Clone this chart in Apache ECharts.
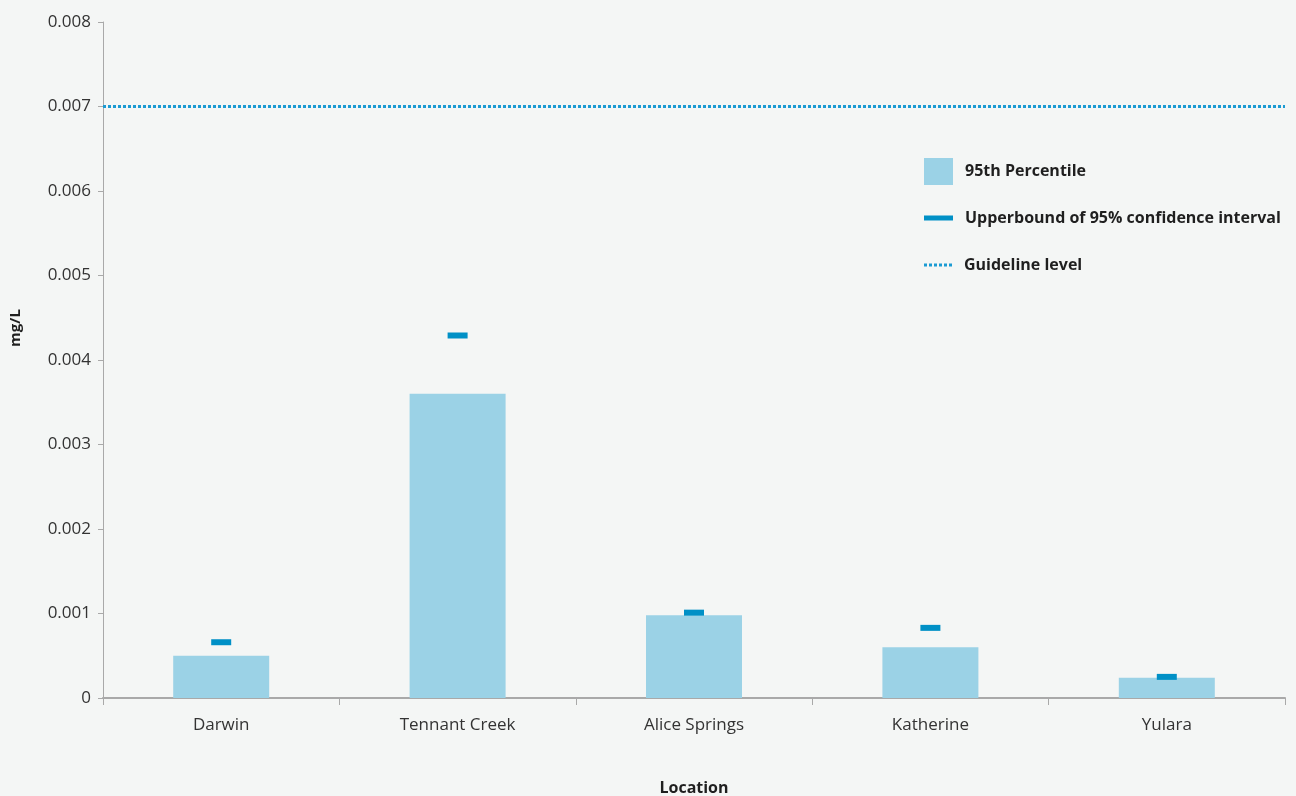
<!DOCTYPE html>
<html>
<head>
<meta charset="utf-8">
<style>
  html, body { margin: 0; padding: 0; background: #f4f6f5; }
  #chart { width: 1296px; height: 796px; }
</style>
<script src="https://cdn.jsdelivr.net/npm/echarts@6/dist/echarts.min.js"></script>
</head>
<body>
<div id="chart"></div>
<script>
// Sampling locations and measured concentrations (mg/L)
const locations = ['Darwin', 'Tennant Creek', 'Alice Springs', 'Katherine', 'Yulara'];
const percentile95 = [0.0005, 0.0036, 0.00098, 0.0006, 0.00024];
const upperBound95 = [0.00066, 0.00429, 0.00101, 0.00083, 0.00025];
const guidelineLevel = 0.007;
const yTicks = { min: 0, max: 0.008, interval: 0.001 };

const FONT = '"Open Sans", "Noto Sans", sans-serif';
const AXIS_GREY = '#a9a9a9';
const GUIDE_BLUE = '#1b9bd3';

// Six small squares forming a dotted-line legend icon
const dottedIcon = 'path://M0,0h3v3h-3zM5,0h3v3h-3zM10,0h3v3h-3zM15,0h3v3h-3zM20,0h3v3h-3zM25,0h3v3h-3z';

const chart = echarts.init(document.getElementById('chart'), null, { renderer: 'canvas' });

const legendText = { fontFamily: FONT, fontSize: 16, fontWeight: 'bold', color: '#1f1f1f', padding: [0, 0, 0, 7] };

chart.setOption({
  backgroundColor: '#f4f6f5',
  animation: false,
  grid: { left: 103, right: 11, top: 22, bottom: 98, containLabel: false, outerBoundsMode: 'none' },
  legend: [
    {
      data: [{ name: '95th Percentile', icon: 'rect' }],
      left: 924, top: 158, padding: 0, itemWidth: 29, itemHeight: 27,
      textStyle: legendText, selectedMode: false
    },
    {
      data: [{ name: 'Upperbound of 95% confidence interval', icon: 'rect' }],
      left: 924, top: 210, padding: 0, itemWidth: 29, itemHeight: 5,
      textStyle: legendText, selectedMode: false
    },
    {
      data: [{ name: 'Guideline level', icon: dottedIcon, itemStyle: { color: GUIDE_BLUE } }],
      left: 924, top: 257, padding: 0, itemWidth: 28, itemHeight: 3,
      textStyle: legendText, selectedMode: false
    }
  ],
  xAxis: [
    {
      type: 'category',
      data: locations,
      boundaryGap: true,
      name: 'Location',
      nameLocation: 'middle',
      nameGap: 82,
      nameTextStyle: { fontFamily: FONT, fontSize: 16, fontWeight: 'bold', color: '#1f1f1f' },
      axisLine: { lineStyle: { color: AXIS_GREY, width: 2 } },
      axisTick: { show: true, alignWithLabel: false, length: 7, lineStyle: { color: AXIS_GREY, width: 1 } },
      axisLabel: { fontFamily: FONT, fontSize: 17, color: '#333', margin: 19 },
      splitLine: { show: false }
    },
    {
      // Hidden 0..1 axis so the guideline spans the full plot width
      type: 'value',
      min: 0,
      max: 1,
      show: false
    }
  ],
  yAxis: {
    type: 'value',
    min: yTicks.min,
    max: yTicks.max,
    interval: yTicks.interval,
    name: 'mg/L',
    nameLocation: 'middle',
    nameGap: 80,
    nameRotate: 90,
    nameTextStyle: { fontFamily: FONT, fontSize: 15, fontWeight: 'bold', color: '#1f1f1f', padding: [0, 0, 0, 64] },
    axisLine: { show: true, lineStyle: { color: AXIS_GREY, width: 1 } },
    axisTick: { show: true, length: 5, lineStyle: { color: AXIS_GREY, width: 1 } },
    axisLabel: {
      fontFamily: FONT, fontSize: 17, color: '#333', margin: 12,
      formatter: v => (v === 0 ? '0' : v.toFixed(3))
    },
    splitLine: { show: false }
  },
  series: [
    {
      name: '95th Percentile',
      type: 'bar',
      data: percentile95,
      barWidth: 96,
      itemStyle: { color: '#9bd2e6' },
      z: 2
    },
    {
      name: 'Upperbound of 95% confidence interval',
      type: 'scatter',
      data: upperBound95,
      symbol: 'rect',
      symbolSize: [20, 6],
      itemStyle: { color: '#0090c6', opacity: 1 },
      z: 3
    },
    {
      name: 'Guideline level',
      type: 'line',
      xAxisIndex: 1,
      data: [[0, guidelineLevel], [1, guidelineLevel]],
      symbol: 'none',
      lineStyle: { color: GUIDE_BLUE, width: 3, type: [3, 2] },
      itemStyle: { color: GUIDE_BLUE },
      z: 1
    }
  ]
});
</script>
</body>
</html>
